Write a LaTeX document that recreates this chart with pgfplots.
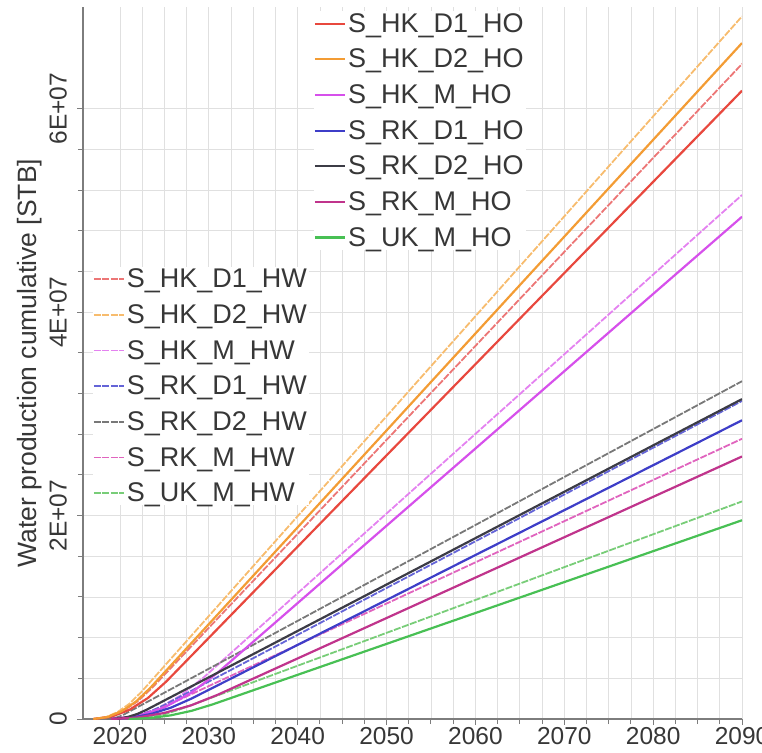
\documentclass[border=0pt]{standalone}
\usepackage{fontspec}
\setmainfont{Liberation Sans}
\usepackage{pgfplots}
\pgfplotsset{compat=1.18}
\definecolor{axgray}{RGB}{125,125,125}
\definecolor{gridgray}{RGB}{224,224,224}
\definecolor{txtgray}{RGB}{55,55,55}
\definecolor{cRed}{RGB}{232,72,62}
\definecolor{cOrange}{RGB}{243,156,52}
\definecolor{cMag}{RGB}{214,80,235}
\definecolor{cBlue}{RGB}{62,62,200}
\definecolor{cDark}{RGB}{60,60,70}
\definecolor{cCrim}{RGB}{192,52,140}
\definecolor{cGreen}{RGB}{72,192,84}
\definecolor{wRed}{RGB}{236,118,118}
\definecolor{wOrange}{RGB}{247,188,110}
\definecolor{wMag}{RGB}{228,130,240}
\definecolor{wBlue}{RGB}{100,100,215}
\definecolor{wGray}{RGB}{120,120,120}
\definecolor{wPink}{RGB}{224,100,190}
\definecolor{wGreen}{RGB}{120,205,120}
\pgfplotsset{
  base/.style={scale only axis, width=659pt, height=712pt,
    xmin=2015.84, xmax=2090, ymin=0, ymax=70,
    at={(0pt,0pt)}, anchor=south west},
  ho/.style={line width=2.2pt, line join=round},
  hw/.style={line width=1.8pt, line join=round, dash pattern=on 7pt off 1.5pt},
  lgd/.style={draw=none, fill=white, inner sep=0pt, row sep=11.3pt,
    nodes={inner sep=2pt, text=txtgray},
    font=\fontsize{27}{30}\selectfont},
}
\begin{document}
\begin{tikzpicture}[font=\fontsize{24.5}{28}\selectfont]
\begin{axis}[base,
  axis lines=left, axis line style={-, draw=axgray, line width=1.8pt},
  xtick={2020,2030,2040,2050,2060,2070,2080,2090},
  xticklabels={2020,2030,2040,2050,2060,2070,2080,2090},
  minor x tick num=3,
  ytick={0,20,40,60}, yticklabels={0,2E+07,4E+07,6E+07},
  minor y tick num=4,
  grid=both, grid style={draw=gridgray, line width=0.8pt},
  major tick length=6pt, minor tick length=5pt, tick align=outside,
  tick style={draw=axgray, line width=1pt},
  xticklabel style={inner sep=0pt, text=txtgray, yshift=-2pt},
  yticklabel style={xshift=-10pt, rotate=90, anchor=south, inner sep=0pt, text=txtgray},
  ylabel={Water production cumulative [STB]},
  ylabel style={at={(axis description cs:-0.0804,0.5)}, anchor=center, text=txtgray,
    font=\fontsize{26.5}{30}\selectfont},
  legend style={lgd, at={(0.35,0.994)}, anchor=north west},
  legend cell align=left,
  legend image code/.code={\draw[#1] (0pt,0pt) -- (30pt,0pt);},
]
% HW series (legend in second axis)
\addplot[hw, wOrange, forget plot] coordinates {(2017,0) (2018.35,0.166) (2019.7,0.664) (2021.05,1.492) (2022.4,2.653) (2030,10.12) (2040,19.95) (2050,29.77) (2060,39.60) (2070,49.42) (2080,59.25) (2090,69.08)};
\addplot[hw, wRed, forget plot] coordinates {(2017,0) (2018.65,0.19) (2020.3,0.762) (2021.95,1.715) (2023.6,3.049) (2030,8.97) (2040,18.20) (2050,27.44) (2060,36.68) (2070,45.92) (2080,55.16) (2090,64.40)};
\addplot[hw, wMag, forget plot] coordinates {(2019,0) (2021.6,0.254) (2024.2,1.018) (2026.8,2.29) (2029.4,4.072) (2030,4.54) (2040,12.37) (2050,20.20) (2060,28.03) (2070,35.86) (2080,43.69) (2090,51.52)};
\addplot[hw, wGray, forget plot] coordinates {(2018.5,0) (2019,0.029) (2019.5,0.118) (2020,0.265) (2020.5,0.471) (2030,4.94) (2040,9.65) (2050,14.36) (2060,19.07) (2070,23.79) (2080,28.50) (2090,33.21)};
\addplot[hw, wBlue, forget plot] coordinates {(2019,0) (2020.5,0.086) (2022,0.345) (2023.5,0.776) (2025,1.38) (2030,3.68) (2040,8.28) (2050,12.88) (2060,17.47) (2070,22.07) (2080,26.67) (2090,31.27)};
\addplot[hw, wPink, forget plot] coordinates {(2019,0) (2020.5,0.076) (2022,0.304) (2023.5,0.684) (2025,1.216) (2030,3.24) (2040,7.29) (2050,11.35) (2060,15.40) (2070,19.45) (2080,23.50) (2090,27.55)};
\addplot[hw, wGreen, forget plot] coordinates {(2021,0) (2022.4,0.057) (2023.8,0.226) (2025.2,0.509) (2026.6,0.905) (2030,2.0) (2040,5.24) (2050,8.47) (2060,11.70) (2070,14.93) (2080,18.16) (2090,21.39)};
% HO series
\addplot[ho, cRed] coordinates {(2017,0) (2019.05,0.23) (2021.1,0.919) (2023.15,2.068) (2025.2,3.676) (2030,7.98) (2040,16.95) (2050,25.92) (2060,34.88) (2070,43.84) (2080,52.81) (2090,61.77)};
\addlegendentry{S\_HK\_D1\_HO}
\addplot[ho, cOrange] coordinates {(2017,0) (2018.6,0.19) (2020.2,0.762) (2021.8,1.714) (2023.4,3.047) (2030,9.33) (2040,18.85) (2050,28.37) (2060,37.90) (2070,47.42) (2080,56.94) (2090,66.46)};
\addlegendentry{S\_HK\_D2\_HO}
\addplot[ho, cMag] coordinates {(2019,0) (2022,0.285) (2025,1.14) (2028,2.564) (2031,4.559) (2040,11.40) (2050,19.00) (2060,26.59) (2070,34.19) (2080,41.79) (2090,49.38)};
\addlegendentry{S\_HK\_M\_HO}
\addplot[ho, cBlue] coordinates {(2019,0) (2021.25,0.125) (2023.5,0.497) (2025.75,1.118) (2028,1.987) (2030,2.871) (2040,7.288) (2050,11.70) (2060,16.12) (2070,20.53) (2080,24.95) (2090,29.37)};
\addlegendentry{S\_RK\_D1\_HO}
\addplot[ho, cDark] coordinates {(2019,0) (2020,0.057) (2021,0.228) (2022,0.513) (2023,0.912) (2030,4.10) (2040,8.66) (2050,13.22) (2060,17.78) (2070,22.34) (2080,26.90) (2090,31.45)};
\addlegendentry{S\_RK\_D2\_HO}
\addplot[ho, cCrim] coordinates {(2019,0) (2022,0.149) (2025,0.596) (2028,1.34) (2031,2.383) (2040,5.957) (2050,9.927) (2060,13.90) (2070,17.87) (2080,21.84) (2090,25.81)};
\addlegendentry{S\_RK\_M\_HO}
\addplot[ho, cGreen] coordinates {(2021,0) (2023.35,0.089) (2025.7,0.357) (2028.05,0.803) (2030.4,1.428) (2040,4.346) (2050,7.385) (2060,10.42) (2070,13.46) (2080,16.50) (2090,19.54)};
\addlegendentry{S\_UK\_M\_HO}
\end{axis}
\begin{axis}[base, hide axis,
  legend style={lgd, at={(0.015,0.635)}, anchor=north west},
  legend cell align=left,
  legend image code/.code={\draw[#1] (0pt,0pt) -- (30pt,0pt);},
]
\addlegendimage{hw, wRed}\addlegendentry{S\_HK\_D1\_HW}
\addlegendimage{hw, wOrange}\addlegendentry{S\_HK\_D2\_HW}
\addlegendimage{hw, wMag}\addlegendentry{S\_HK\_M\_HW}
\addlegendimage{hw, wBlue}\addlegendentry{S\_RK\_D1\_HW}
\addlegendimage{hw, wGray}\addlegendentry{S\_RK\_D2\_HW}
\addlegendimage{hw, wPink}\addlegendentry{S\_RK\_M\_HW}
\addlegendimage{hw, wGreen}\addlegendentry{S\_UK\_M\_HW}
\end{axis}
\pgfresetboundingbox
\path (-83pt,-33pt) rectangle (679pt,719pt);
\end{tikzpicture}
\end{document}
